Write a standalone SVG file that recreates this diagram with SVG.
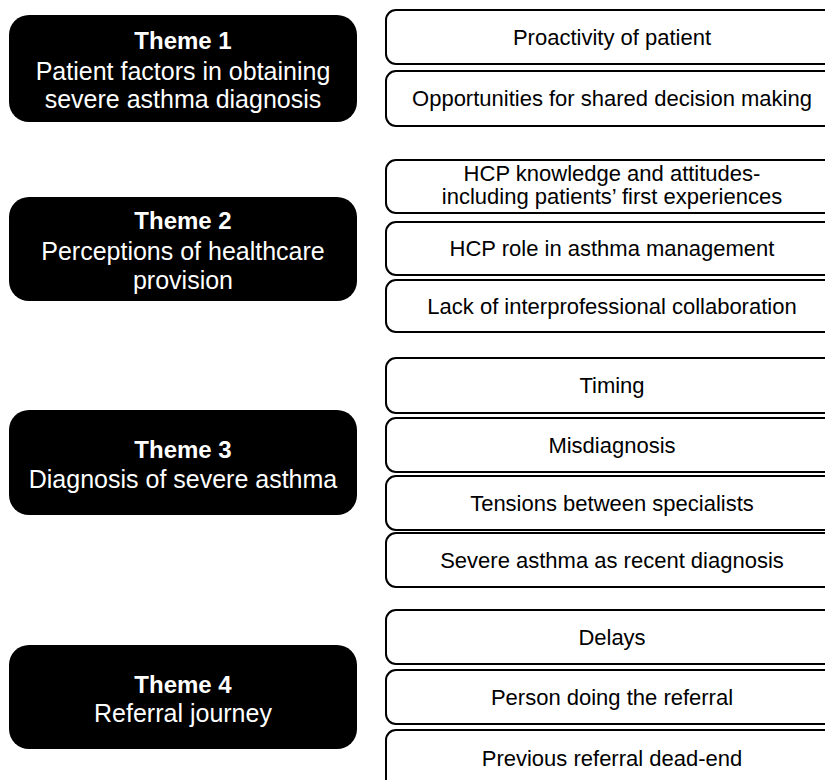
<svg xmlns="http://www.w3.org/2000/svg" width="825" height="780" viewBox="0 0 825 780">
<style>
.theme{fill:#000;}
.tt{font-family:"Liberation Sans",Arial,sans-serif;font-size:25px;fill:#fff;text-anchor:middle;}
.b{font-weight:bold;font-size:24px;}
.sub{fill:#fff;stroke:#000;stroke-width:2;}
.st{font-family:"Liberation Sans",Arial,sans-serif;font-size:22px;fill:#000;text-anchor:middle;}
</style>
<rect width="825" height="780" fill="#fff"/>
<g id="theme1">
<rect class="theme" x="9" y="15" width="348" height="107" rx="20"/>
<text class="tt b" x="183" y="49">Theme 1</text>
<text class="tt" x="183" y="80">Patient factors in obtaining</text>
<text class="tt" x="183" y="108">severe asthma diagnosis</text>
</g>
<g id="theme2">
<rect class="theme" x="9" y="197" width="348" height="104" rx="20"/>
<text class="tt b" x="183" y="229">Theme 2</text>
<text class="tt" x="183" y="260">Perceptions of healthcare</text>
<text class="tt" x="183" y="289">provision</text>
</g>
<g id="theme3">
<rect class="theme" x="9" y="410" width="348" height="105" rx="20"/>
<text class="tt b" x="183" y="458">Theme 3</text>
<text class="tt" x="183" y="488">Diagnosis of severe asthma</text>
</g>
<g id="theme4">
<rect class="theme" x="9" y="645" width="348" height="104" rx="20"/>
<text class="tt b" x="183" y="693">Theme 4</text>
<text class="tt" x="183" y="722">Referral journey</text>
</g>
<g id="s1a"><rect class="sub" x="386" y="10" width="452" height="54" rx="10"/><text class="st" x="612" y="45">Proactivity of patient</text></g>
<g id="s1b"><rect class="sub" x="386" y="71" width="452" height="55" rx="10"/><text class="st" x="612" y="106">Opportunities for shared decision making</text></g>
<g id="s2a"><rect class="sub" x="386" y="160" width="452" height="53" rx="10"/><text class="st" x="612" y="181">HCP knowledge and attitudes-</text><text class="st" x="612" y="204">including patients’ first experiences</text></g>
<g id="s2b"><rect class="sub" x="386" y="222" width="452" height="53" rx="10"/><text class="st" x="612" y="256">HCP role in asthma management</text></g>
<g id="s2c"><rect class="sub" x="386" y="280" width="452" height="52" rx="10"/><text class="st" x="612" y="314">Lack of interprofessional collaboration</text></g>
<g id="s3a"><rect class="sub" x="386" y="358" width="452" height="55" rx="10"/><text class="st" x="612" y="393">Timing</text></g>
<g id="s3b"><rect class="sub" x="386" y="418" width="452" height="54" rx="10"/><text class="st" x="612" y="453">Misdiagnosis</text></g>
<g id="s3c"><rect class="sub" x="386" y="476" width="452" height="54" rx="10"/><text class="st" x="612" y="511">Tensions between specialists</text></g>
<g id="s3d"><rect class="sub" x="386" y="533" width="452" height="54" rx="10"/><text class="st" x="612" y="568">Severe asthma as recent diagnosis</text></g>
<g id="s4a"><rect class="sub" x="386" y="610" width="452" height="54" rx="10"/><text class="st" x="612" y="645">Delays</text></g>
<g id="s4b"><rect class="sub" x="386" y="670" width="452" height="54" rx="10"/><text class="st" x="612" y="705">Person doing the referral</text></g>
<g id="s4c"><rect class="sub" x="386" y="730" width="452" height="70" rx="10"/><text class="st" x="612" y="766">Previous referral dead-end</text></g>
<g id="connectors"></g>
</svg>
